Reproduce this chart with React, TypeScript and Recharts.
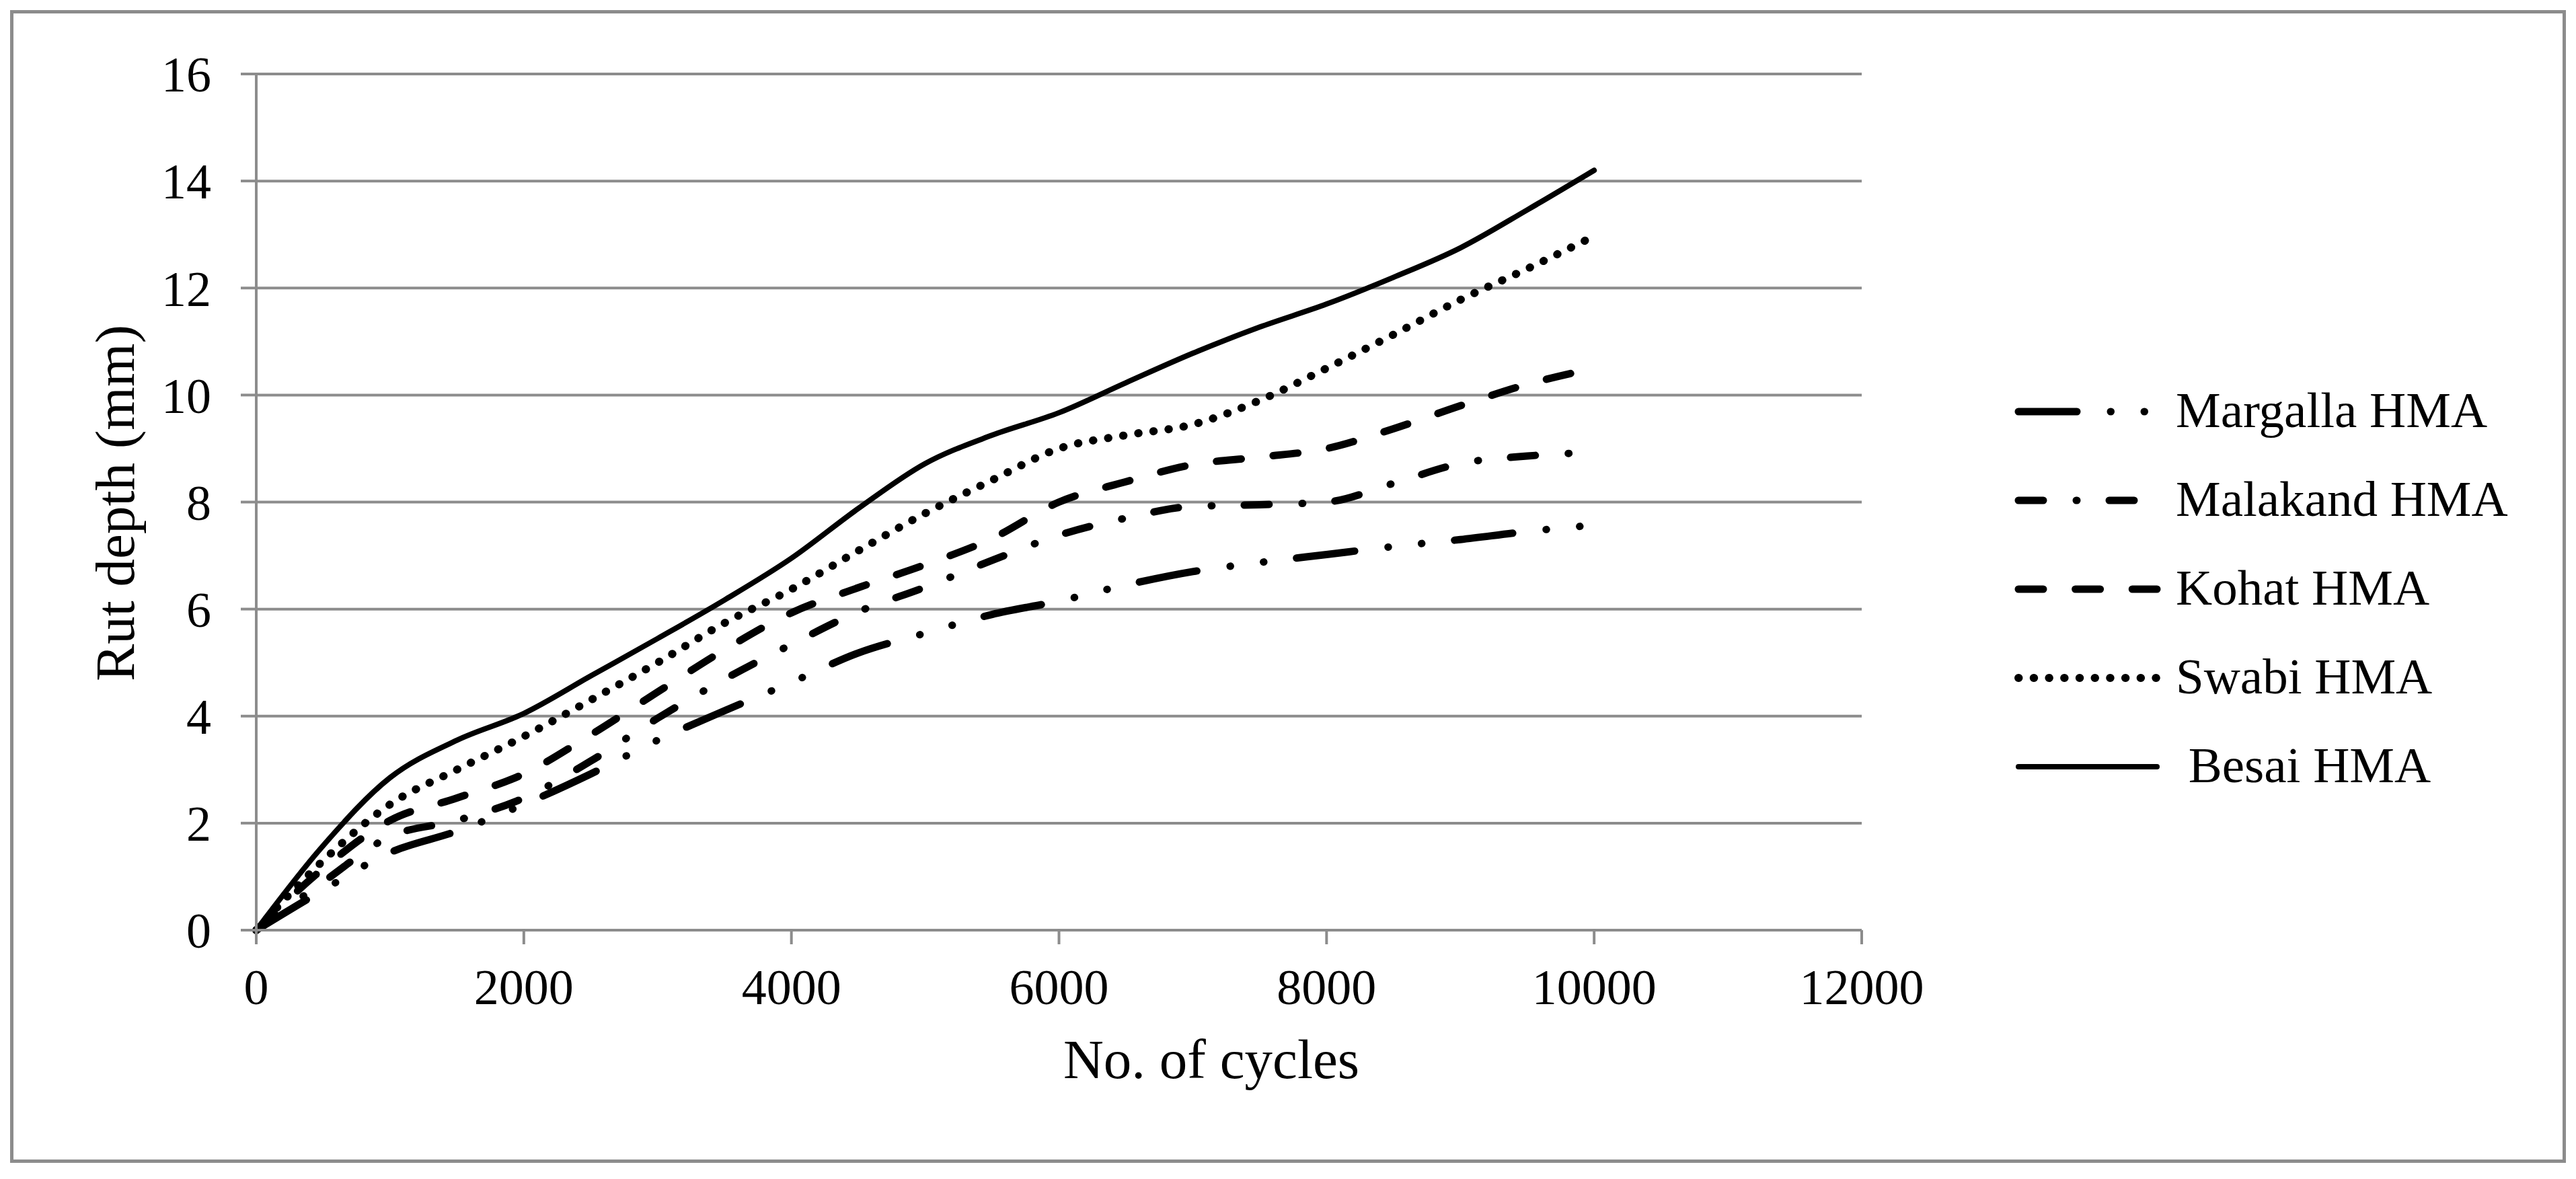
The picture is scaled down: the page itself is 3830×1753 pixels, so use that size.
import React from "react";
import { CartesianGrid, Line, LineChart, XAxis, YAxis } from "recharts";

// rut depth (mm) against load cycles
const cycles = [
  0, 500, 1000, 1500, 2000, 2500, 3000, 3500, 4000, 4500, 5000, 5500, 6000, 6500, 7000, 7500, 8000,
  8500, 9000, 9500, 10000,
];
const margalla = [
  0, 0.75, 1.45, 1.85, 2.35, 2.92, 3.55, 4.1, 4.63, 5.18, 5.55, 5.9, 6.15, 6.45, 6.7, 6.87, 7.02, 7.17,
  7.3, 7.45, 7.57,
];
const malakand = [
  0, 0.9, 1.75, 2.05, 2.47, 3.16, 3.96, 4.69, 5.34, 5.95, 6.41, 6.91, 7.38, 7.7, 7.92, 7.95, 8.0, 8.35,
  8.72, 8.86, 8.93,
];
const kohat = [
  0, 1.15, 2.05, 2.47, 2.92, 3.65, 4.45, 5.24, 5.93, 6.4, 6.83, 7.32, 8.0, 8.38, 8.7, 8.84, 9.0, 9.37,
  9.8, 10.2, 10.5,
];
const swabi = [
  0, 1.3, 2.35, 3.0, 3.62, 4.3, 5.0, 5.74, 6.37, 7.09, 7.79, 8.41, 9.0, 9.25, 9.45, 9.9, 10.5, 11.13,
  11.78, 12.36, 12.97,
];
const besai = [
  0, 1.58, 2.85, 3.55, 4.05, 4.75, 5.45, 6.17, 6.95, 7.88, 8.72, 9.25, 9.67, 10.23, 10.78, 11.27, 11.7,
  12.2, 12.75, 13.46, 14.2,
];

const xTicks = [0, 2000, 4000, 6000, 8000, 10000, 12000];
const yTicks = [0, 2, 4, 6, 8, 10, 12, 14, 16];

const series = [
  { key: "margalla", name: "Margalla HMA", values: margalla, dash: "87 50 0.5 49.5 0.5 49", width: 11 },
  { key: "malakand", name: "Malakand HMA", values: malakand, dash: "37 49 1 48", width: 11 },
  { key: "kohat", name: "Kohat HMA", values: kohat, dash: "37 47.6", width: 11 },
  { key: "swabi", name: "Swabi HMA", values: swabi, dash: "0.5 22.2", width: 12 },
  { key: "besai", name: " Besai HMA", values: besai, dash: undefined, width: 8 },
];

const rows = cycles.map((c, i) => {
  const row: Record<string, number> = { cycles: c };
  series.forEach((s) => {
    row[s.key] = s.values[i];
  });
  return row;
});

const FONT = '"Liberation Serif", "Times New Roman", serif';
const GRID = "#8c8c8c";

const W = 3830;
const H = 1753;
const Y_AXIS_W = 300;
const X_AXIS_H = 260;

function ChartLegend() {
  return (
    <svg
      width={W}
      height={H}
      style={{ position: "absolute", left: 0, top: 0, pointerEvents: "none" }}
    >
      {series.map((s, i) => {
        const base = 635 + i * 132;
        return (
          <g key={s.key}>
            <line
              x1={3001}
              x2={3207}
              y1={base - 23}
              y2={base - 23}
              stroke="#000"
              strokeWidth={s.width}
              strokeLinecap="round"
              strokeDasharray={s.dash}
            />
            <text
              x={3235}
              y={base}
              fontFamily={FONT}
              fontSize={75}
              fill="#000"
              style={{ whiteSpace: "pre" }}
            >
              {s.name}
            </text>
          </g>
        );
      })}
    </svg>
  );
}

export default function App() {
  return (
    <div style={{ position: "absolute", left: 0, top: 0, width: W, height: H, background: "#fff" }}>
      <div
        style={{
          position: "absolute",
          left: 15,
          top: 15,
          width: 3800,
          height: 1714,
          boxSizing: "border-box",
          border: `5px solid ${GRID}`,
        }}
      />
      <LineChart
        width={W}
        height={H}
        data={rows}
        margin={{ top: 110, right: W - 2768, bottom: H - 1383 - X_AXIS_H, left: 381 - Y_AXIS_W }}
        style={{ position: "absolute", left: 0, top: 0 }}
      >
        <CartesianGrid horizontal vertical={false} stroke={GRID} strokeWidth={4} />
        <XAxis
          dataKey="cycles"
          type="number"
          domain={[0, 12000]}
          ticks={xTicks}
          interval={0}
          height={X_AXIS_H}
          axisLine={{ stroke: GRID, strokeWidth: 4 }}
          tickLine={{ stroke: GRID, strokeWidth: 4 }}
          tickSize={21}
          tickMargin={36}
          tick={{ fill: "#000", fontSize: 74, fontFamily: FONT }}
          label={{
            content: () => (
              <text x={1801} y={1603} textAnchor="middle" fontFamily={FONT} fontSize={83} fill="#000">
                No. of cycles
              </text>
            ),
          }}
        />
        <YAxis
          type="number"
          domain={[0, 16]}
          ticks={yTicks}
          interval={0}
          width={Y_AXIS_W}
          axisLine={{ stroke: GRID, strokeWidth: 4 }}
          tickLine={{ stroke: GRID, strokeWidth: 4 }}
          tickSize={23}
          tickMargin={44}
          tick={{ fill: "#000", fontSize: 74, fontFamily: FONT }}
          label={{
            content: () => (
              <text
                x={199}
                y={748}
                transform="rotate(-90 199 748)"
                textAnchor="middle"
                fontFamily={FONT}
                fontSize={83}
                fill="#000"
              >
                Rut depth (mm)
              </text>
            ),
          }}
        />
        {series.map((s) => (
          <Line
            key={s.key}
            type="monotone"
            dataKey={s.key}
            name={s.name}
            stroke="#000"
            strokeWidth={s.width}
            strokeDasharray={s.dash}
            strokeLinecap="round"
            dot={false}
            activeDot={false}
            isAnimationActive={false}
          />
        ))}
      </LineChart>
      <ChartLegend />
    </div>
  );
}
